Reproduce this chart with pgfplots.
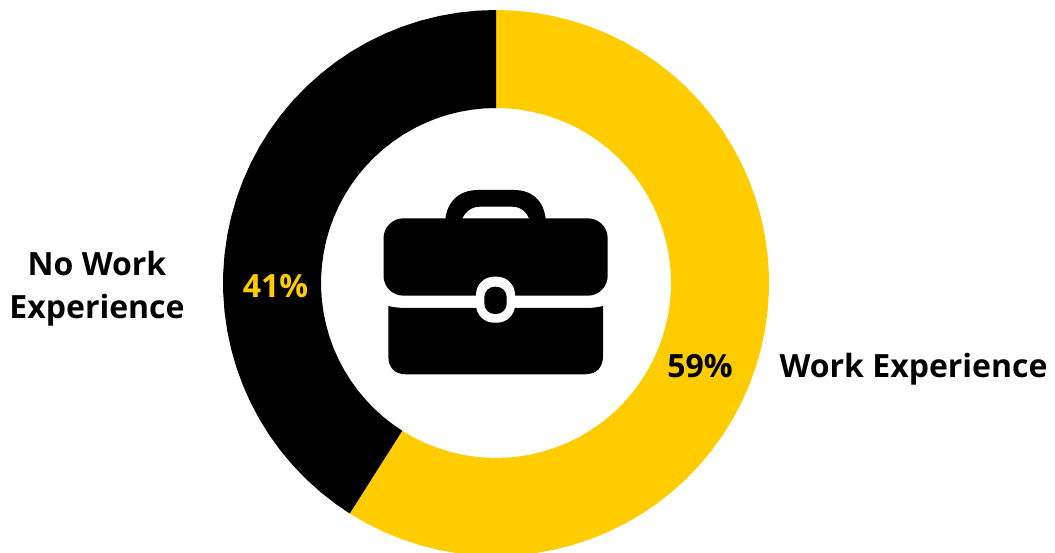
\documentclass[border=0pt]{standalone}
\usepackage{pgfplots}
\pgfplotsset{compat=1.18}
\usepackage{fontspec}
\setmainfont{Open Sans}
\definecolor{gold}{HTML}{FFCC00}
\begin{document}
\begin{tikzpicture}
\useasboundingbox (0,0) rectangle (1055pt,552pt);
\clip (0,0) rectangle (1055pt,552pt);
\begin{axis}[
  scale only axis, width=1055pt, height=552pt,
  xmin=-496, xmax=559, ymin=-269, ymax=283,
  axis lines=none,
  anchor=south west, at={(0pt,0pt)}
]
% Work Experience: 59% of the ring, clockwise from the top
\addplot[fill=gold, draw=none, data cs=polar] coordinates {
(90,273)(86,273)(82,273)(78,273)(74,273)(70,273)(66,273)(62,273)(58,273)(54,273)
(50,273)(46,273)(42,273)(38,273)(34,273)(30,273)(26,273)(22,273)(18,273)(14,273)
(10,273)(6,273)(2,273)(-2,273)(-6,273)(-10,273)(-14,273)(-18,273)(-22,273)(-26,273)
(-30,273)(-34,273)(-38,273)(-42,273)(-46,273)(-50,273)(-54,273)(-58,273)(-62,273)(-66,273)
(-70,273)(-74,273)(-78,273)(-82,273)(-86,273)(-90,273)(-94,273)(-98,273)(-102,273)(-106,273)
(-110,273)(-114,273)(-118,273)(-122,273)(-122.4,273)
(-122.4,175)(-122,175)(-118,175)(-114,175)(-110,175)
(-106,175)(-102,175)(-98,175)(-94,175)(-90,175)(-86,175)(-82,175)(-78,175)(-74,175)(-70,175)
(-66,175)(-62,175)(-58,175)(-54,175)(-50,175)(-46,175)(-42,175)(-38,175)(-34,175)(-30,175)
(-26,175)(-22,175)(-18,175)(-14,175)(-10,175)(-6,175)(-2,175)(2,175)(6,175)(10,175)
(14,175)(18,175)(22,175)(26,175)(30,175)(34,175)(38,175)(42,175)(46,175)(50,175)
(54,175)(58,175)(62,175)(66,175)(70,175)(74,175)(78,175)(82,175)(86,175)(90,175)
} -- cycle;
% No Work Experience: the remaining 41%
\addplot[fill=black, draw=none, data cs=polar] coordinates {
(90,273)(94,273)(98,273)(102,273)(106,273)(110,273)(114,273)(118,273)(122,273)(126,273)
(130,273)(134,273)(138,273)(142,273)(146,273)(150,273)(154,273)(158,273)(162,273)(166,273)
(170,273)(174,273)(178,273)(182,273)(186,273)(190,273)(194,273)(198,273)(202,273)(206,273)
(210,273)(214,273)(218,273)(222,273)(226,273)(230,273)(234,273)(237.6,273)
(237.6,175)(234,175)(230,175)(226,175)(222,175)(218,175)(214,175)(210,175)(206,175)(202,175)
(198,175)(194,175)(190,175)(186,175)(182,175)(178,175)(174,175)(170,175)(166,175)(162,175)
(158,175)(154,175)(150,175)(146,175)(142,175)(138,175)(134,175)(130,175)(126,175)(122,175)
(118,175)(114,175)(110,175)(106,175)(102,175)(98,175)(94,175)(90,175)
} -- cycle;

% Text, placed in picture units from the top-left corner
\newcommand{\lab}[4][black]{\node[text=#1, font=\fontsize{32}{43}\selectfont\bfseries, align=center, inner sep=0pt] at (axis cs:#2-496,283-#3) {#4};}
\lab{97}{288.5}{No Work\\Experience}
\lab[gold]{275.5}{286}{41\%}
\lab{700}{366}{59\%}
\lab{913.5}{369}{Work Experience}

% Briefcase icon in the centre of the ring
\begin{scope}[shift={(axis cs:-496,283)}, x=1pt, y=-1pt]
  % handle
  \fill[black, even odd rule]
    (445,225) .. controls (445,203) and (458,190) .. (478,190) -- (514,190)
    .. controls (534,190) and (546,203) .. (546,225) -- cycle
    (461.5,220) .. controls (465,212) and (471,206.7) .. (480,206.7) -- (512,206.7)
    .. controls (521,206.7) and (527,212) .. (529.5,220) -- cycle;
  % upper part of the case
  \fill[black, rounded corners=20pt] (383.5,218.3) rectangle (607.7,295.7);
  % lower part of the case
  \fill[black]
    (388.3,306) .. controls (396,308) and (404,308) .. (412,308) -- (580,308)
    .. controls (588,308) and (596,308) .. (603,306) -- (603,356)
    .. controls (603,368) and (596,374.3) .. (585,374.3) -- (406,374.3)
    .. controls (395,374.3) and (388.3,368) .. (388.3,356) -- cycle;
  % clasp
  \fill[white, rounded corners=18pt] (476,276.7) rectangle (515,322.7);
  \fill[black, rounded corners=10.5pt] (484.3,286.7) rectangle (506.7,314);
\end{scope}
\end{axis}
\end{tikzpicture}
\end{document}
